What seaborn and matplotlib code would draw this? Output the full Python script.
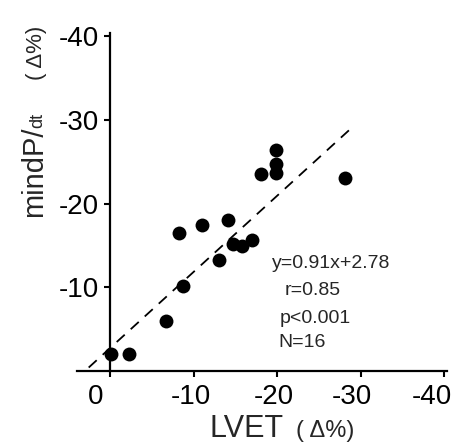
import matplotlib
matplotlib.use("Agg")
import matplotlib.pyplot as plt
import matplotlib.transforms as mtrans
import numpy as np
import pandas as pd
import seaborn as sns

# values (plotted as negative changes)
lvet = [-0.1, -2.2, -6.6, -8.7, -8.2, -11.0, -13.0, -14.1, -14.7, -15.8, -17.0,
        -18.0, -19.8, -19.8, -19.8, -28.1]
mindpdt = [-2.0, -2.0, -6.0, -10.2, -16.5, -17.4, -13.3, -18.1, -15.2, -15.0, -15.7,
           -23.6, -26.4, -24.8, -23.7, -23.1]
slope, intercept = 0.91, -2.78
fit_x = [2.6, -29.1]
ticks = [0, -10, -20, -30, -40]
stats_lines = ["y=0.91x+2.78", "r=0.85", "p<0.001", "N=16"]

df = pd.DataFrame({"lvet": lvet, "mindpdt": mindpdt})

sns.set_style("ticks")
plt.rcParams["font.family"] = ["Liberation Sans", "DejaVu Sans"]
plt.rcParams["axes.unicode_minus"] = False

W, H = 460, 444
fig = plt.figure(figsize=(W / 100, H / 100), dpi=100)
ax = fig.add_axes([77 / W, 73 / H, 370 / W, 338 / H])

sns.scatterplot(data=df, x="lvet", y="mindpdt", ax=ax, color="black",
                s=100, edgecolor="black", linewidth=0, zorder=3)

fx = np.array(fit_x)
ax.plot(fx, slope * fx + intercept, color="black", lw=1.3, dashes=(6, 4.5))

ax.set_xlim(4, -40.3)
ax.set_ylim(0, -40.4)
ax.spines["left"].set_position(("data", 0))
ax.spines["top"].set_visible(False)
ax.spines["right"].set_visible(False)
for s in ("left", "bottom"):
    ax.spines[s].set_linewidth(1.6)
    ax.spines[s].set_color("black")

ax.set_xticks(ticks)
ax.set_xticklabels([str(t) for t in ticks])
ax.set_yticks(ticks[1:])
ax.set_yticklabels([str(t) for t in ticks[1:]])
ax.tick_params(axis="both", labelsize=20, length=4, width=1.5, color="black",
               labelcolor="black")
ax.tick_params(axis="x", pad=5)
ax.tick_params(axis="y", pad=4)
ax.set_xlabel("")
ax.set_ylabel("")

# the printed x labels sit a little left of their ticks
shifts = [-15, -3, -4, -9, -13]
for lab, dx in zip(ax.get_xticklabels(), shifts):
    lab.set_transform(lab.get_transform() +
                      mtrans.ScaledTranslation(dx / 100, 0, fig.dpi_scale_trans))

# stats annotation
ax.text(-19.35, -12.3, stats_lines[0], fontsize=14, ha="left", va="baseline")
ax.text(-20.9, -9.08, stats_lines[1], fontsize=14, ha="left", va="baseline")
ax.text(-20.3, -5.73, stats_lines[2], fontsize=14, ha="left", va="baseline")
ax.text(-20.1, -2.87, stats_lines[3], fontsize=14, ha="left", va="baseline")

# x title
fig.text(210 / W, 1 - 437 / H, "LVET", fontsize=22, ha="left", va="baseline")
fig.text(296 / W, 1 - 437 / H, "( Δ%)", fontsize=17, ha="left", va="baseline")

# y title: big "mindP/", small "dt", then "(Δ%)"
t1 = fig.text(42 / W, 1 - 217 / H, "mindP/", fontsize=21,
              rotation=90, ha="left", va="baseline", rotation_mode="anchor")
fig.canvas.draw()
bb = t1.get_window_extent()
fig.text(42 / W, (bb.y1 - 1) / H, "dt", fontsize=13,
         rotation=90, ha="left", va="baseline", rotation_mode="anchor")
fig.text(42 / W, 1 - 80 / H, "( Δ%)", fontsize=16,
         rotation=90, ha="left", va="baseline", rotation_mode="anchor")

fig.savefig("out.png", dpi=100)
